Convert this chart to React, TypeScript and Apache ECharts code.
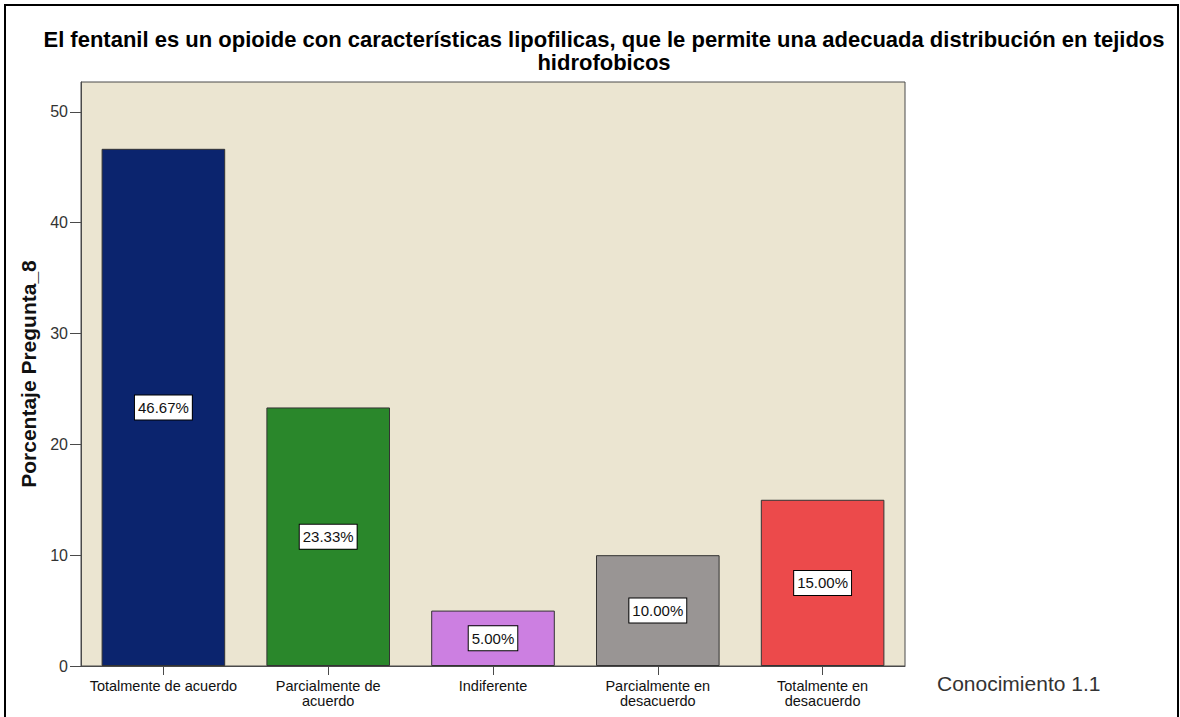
import React, { useEffect, useRef } from "react";
import * as echarts from "echarts";

const categories = [
  "Totalmente de acuerdo",
  "Parcialmente de\nacuerdo",
  "Indiferente",
  "Parcialmente en\ndesacuerdo",
  "Totalmente en\ndesacuerdo",
];
const percentages = [46.67, 23.33, 5.0, 10.0, 15.0];
const yTicks = [0, 10, 20, 30, 40, 50];

const palette = ["#0b246e", "#2a872b", "#cc7fe1", "#999594", "#ec4a4b"];

const titleText =
  "El fentanil es un opioide con características lipofilicas, que le permite una adecuada distribución en tejidos\nhidrofobicos";
const yAxisName = "Porcentaje Pregunta_8";
const legendText = "Conocimiento 1.1";

const FONT = "'Liberation Sans', Arial, sans-serif";

export default function App() {
  const ref = useRef<HTMLDivElement>(null);

  useEffect(() => {
    document.body.style.margin = "0";
    if (!ref.current) return;
    const chart = echarts.init(ref.current, null, { renderer: "svg" });
    chart.setOption({
      animation: false,
      backgroundColor: "#ffffff",
      textStyle: { fontFamily: FONT },
      grid: {
        left: 81,
        top: 82,
        width: 824,
        height: 584,
        show: true,
        backgroundColor: "#ebe5d1",
        borderColor: "#4a4a4a",
        borderWidth: 1,
      },
      xAxis: {
        type: "category",
        data: categories,
        axisLine: { show: true, lineStyle: { color: "#4a4a4a", width: 1 } },
        axisTick: { show: true, alignWithLabel: true, length: 9, lineStyle: { color: "#4a4a4a" } },
        axisLabel: {
          interval: 0,
          fontSize: 14.5,
          lineHeight: 15,
          color: "#111",
          margin: 12,
          fontFamily: FONT,
        },
      },
      yAxis: {
        type: "value",
        min: yTicks[0],
        max: 52.7,
        interval: 10,
        name: yAxisName,
        nameLocation: "middle",
        nameGap: 34,
        nameTextStyle: { fontSize: 21, fontWeight: "bold", color: "#111", fontFamily: FONT },
        axisLine: { show: true, lineStyle: { color: "#4a4a4a" } },
        axisTick: { show: true, length: 11, lineStyle: { color: "#4a4a4a" } },
        axisLabel: {
          fontSize: 16,
          color: "#333",
          margin: 13,
          showMaxLabel: false,
          fontFamily: FONT,
          formatter: (v: number) => (yTicks.includes(v) ? String(v) : ""),
        },
        splitLine: { show: false },
      },
      series: [
        {
          type: "bar",
          barCategoryGap: "25%",
          data: percentages.map((v, i) => ({
            value: v,
            itemStyle: { color: palette[i], borderColor: "#333", borderWidth: 1 },
          })),
          label: {
            show: true,
            position: "inside",
            formatter: (p: any) => p.value.toFixed(2) + "%",
            fontSize: 15,
            lineHeight: 17,
            color: "#111",
            fontFamily: FONT,
            backgroundColor: "#ffffff",
            borderColor: "#000",
            borderWidth: 1,
            padding: [4, 3, 3, 3],
          },
        },
      ],
      graphic: [
        {
          type: "rect",
          shape: { x: 5, y: 5, width: 1173, height: 760 },
          style: { fill: "none", stroke: "#000", lineWidth: 2 },
          z: 100,
        },
        {
          type: "text",
          x: 604,
          y: 28,
          style: {
            text: titleText,
            align: "center",
            verticalAlign: "top",
            fontSize: 22,
            fontWeight: "bold",
            lineHeight: 23,
            fill: "#000",
            fontFamily: FONT,
          },
        },
        {
          type: "text",
          x: 937,
          y: 683,
          style: {
            text: legendText,
            align: "left",
            verticalAlign: "middle",
            fontSize: 21,
            fill: "#333",
            fontFamily: FONT,
          },
        },
      ],
    });
    return () => chart.dispose();
  }, []);

  return <div ref={ref} style={{ width: 1180, height: 717 }} />;
}
